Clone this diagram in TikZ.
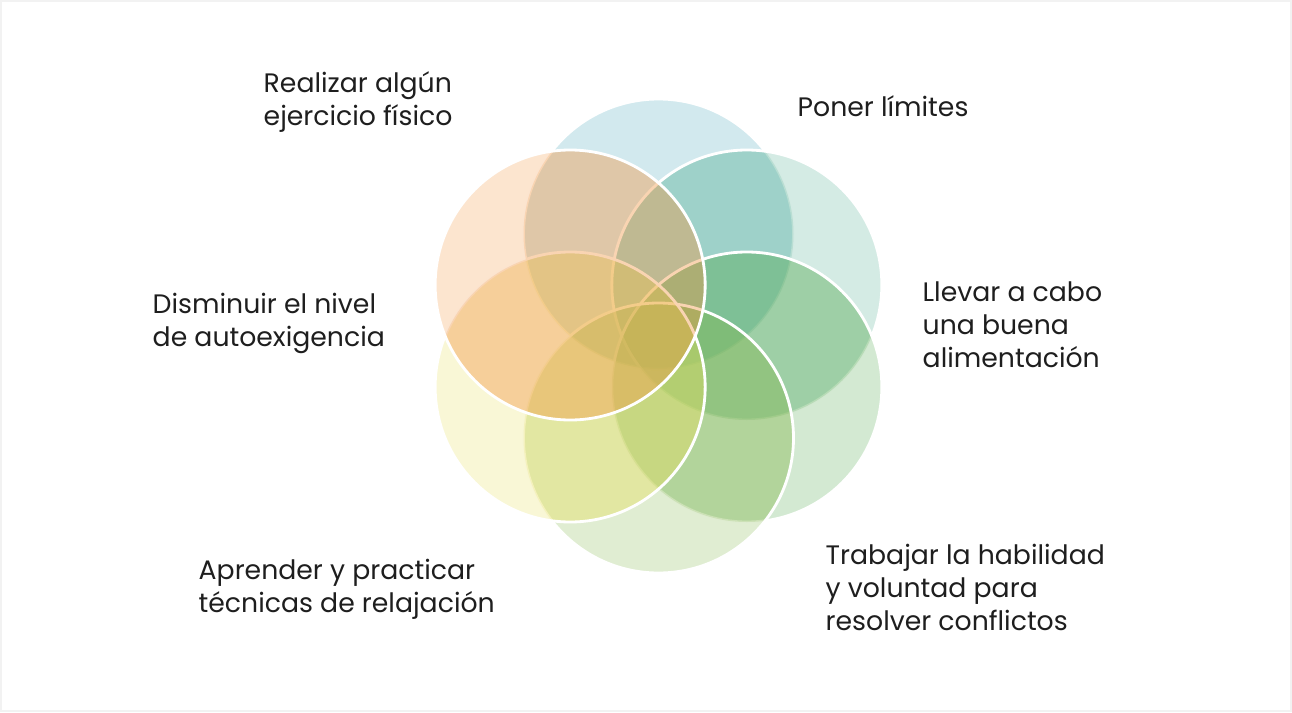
\documentclass[tikz,border=0pt]{standalone}
\usepackage{fontspec}
\setmainfont{Poppins}
\usepackage{tikz}

\definecolor{petalblue}{RGB}{75,167,187}
\definecolor{petalteal}{RGB}{83,175,147}
\definecolor{petalgreen}{RGB}{79,167,75}
\definecolor{petallime}{RGB}{131,183,75}
\definecolor{petalyellow}{RGB}{231,223,91}
\definecolor{petalorange}{RGB}{243,150,65}
\definecolor{labeltext}{RGB}{30,30,30}

\begin{document}
\begin{tikzpicture}[petal/.style={opacity=0.25},
  boost/.style={opacity=0.2},
  rim/.style={draw=white, line width=0.8pt},
  lbl/.style={anchor=west, align=left, inner sep=0pt, text=labeltext,
    font=\fontsize{7.6pt}{9.4pt}\selectfont}]
\useasboundingbox (0,0) rectangle (12.92,7.12);
\draw[gray!10, line width=0.5pt] (0.01,0.01) rectangle (12.91,7.11);

\begin{scope}[shift={(6.585,3.76)}]
\coordinate (pblue) at (90:1.02);
\coordinate (pteal) at (30:1.02);
\coordinate (pgreen) at (-30:1.02);
\coordinate (plime) at (-90:1.02);
\coordinate (pyellow) at (210:1.02);
\coordinate (porange) at (150:1.02);
\end{scope}

% blue
\fill[petalblue, petal] (pblue) circle (1.35);
\draw[rim] (pblue) circle (1.35);

% teal
\fill[petalteal, petal] (pteal) circle (1.35);
\begin{scope}
\clip (pteal) circle (1.35);
\fill[petalteal, boost] (pblue) circle (1.35);
\end{scope}
\draw[rim] (pteal) circle (1.35);

% green
\fill[petalgreen, petal] (pgreen) circle (1.35);
\begin{scope}
\clip (pgreen) circle (1.35);
\fill[petalgreen, boost] (pblue) circle (1.35) (pteal) circle (1.35);
\end{scope}
\draw[rim] (pgreen) circle (1.35);

% lime
\fill[petallime, petal] (plime) circle (1.35);
\begin{scope}
\clip (plime) circle (1.35);
\fill[petallime, boost] (pblue) circle (1.35) (pteal) circle (1.35)
  (pgreen) circle (1.35);
\end{scope}
\draw[rim] (plime) circle (1.35);

% yellow
\fill[petalyellow, petal] (pyellow) circle (1.35);
\begin{scope}
\clip (pyellow) circle (1.35);
\fill[petalyellow, boost] (pblue) circle (1.35) (pteal) circle (1.35)
  (pgreen) circle (1.35) (plime) circle (1.35);
\end{scope}
\draw[rim] (pyellow) circle (1.35);

% orange
\fill[petalorange, petal] (porange) circle (1.35);
\begin{scope}
\clip (porange) circle (1.35);
\fill[petalorange, boost] (pblue) circle (1.35) (pteal) circle (1.35)
  (pgreen) circle (1.35) (plime) circle (1.35) (pyellow) circle (1.35);
\end{scope}
\draw[rim] (porange) circle (1.35);

\node[lbl] (ejercicio) at (2.63,6.095) {Realizar algún\\ejercicio físico};
\node[lbl] (limites) at (7.97,6.06) {Poner límites};
\node[lbl] (alimentacion) at (9.22,3.87) {Llevar a cabo\\una buena\\alimentación};
\node[lbl] (autoexigencia) at (1.52,3.89) {Disminuir el nivel\\de autoexigencia};
\node[lbl] (relajacion) at (1.98,1.225) {Aprender y practicar\\técnicas de relajación};
\node[lbl] (conflictos) at (8.25,1.245) {Trabajar la habilidad\\y voluntad para\\resolver conflictos};
\end{tikzpicture}
\end{document}
